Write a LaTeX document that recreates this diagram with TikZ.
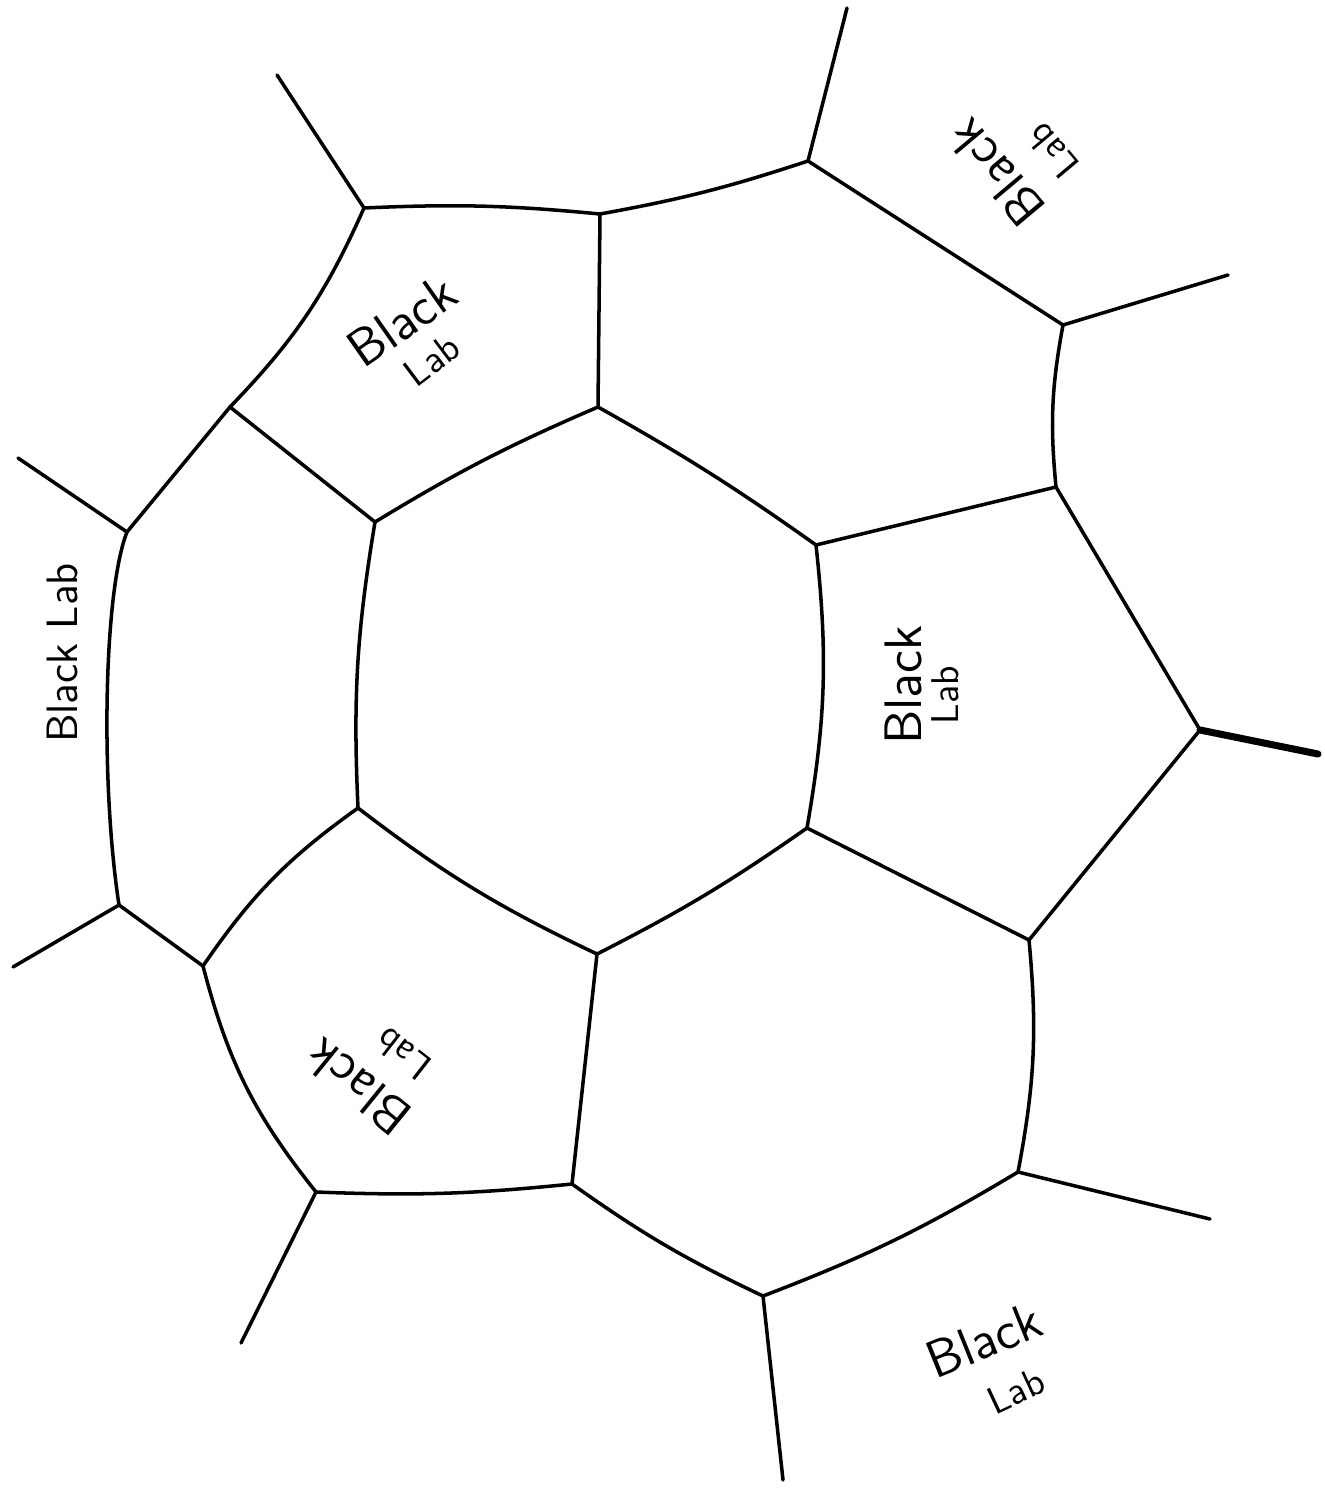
\documentclass[tikz,border=0pt]{standalone}
\begin{document}
\begin{tikzpicture}[x=0.01cm,y=-0.01cm,
    seam/.style={line width=1pt,line join=round,line cap=round},
    thickseam/.style={line width=2pt,line cap=round},
    bigword/.style={font=\sffamily\fontsize{15}{17}\selectfont,inner sep=0pt},
    smallword/.style={font=\sffamily\fontsize{11}{13}\selectfont,inner sep=0pt},
    midword/.style={font=\sffamily\fontsize{12.5}{14}\selectfont,inner sep=0pt}]
  \useasboundingbox (0,0) rectangle (1324,1488);
  \foreach \n/\p in {a/{364,208}, t/{600,214}, tr/{808,161}, r1/{1063,325}, r2/{1056,487},
      r3/{1200,730}, b1/{1029,940}, b2/{1018,1172}, b3/{763,1296}, p3/{572,1184},
      p2/{316,1192}, p1/{203,966}, l3/{119,905}, l2/{127,532}, l1/{230,407},
      c1/{598,407}, c2/{816,545}, c3/{807,828}, c4/{597,954}, c5/{358,808}, c6/{375,522}}
    \coordinate (\n) at (\p);
  \foreach \n/\p in {e1/{277,75}, e2/{847,8}, e3/{1228,275}, e4/{1318,754}, e5/{1210,1219},
      e6/{783,1480}, e7/{241,1343}, e8/{13,967}, e9/{18,458}}
    \coordinate (\n) at (\p);
  \foreach \a/\b/\o in {a/t/4, t/tr/-4, tr/r1/0, r1/r2/-8, r2/c2/0, c1/c2/3, t/c1/0,
      c6/c1/4, a/l1/10, l1/c6/0, l1/l2/0, c6/c5/-6, c5/p1/-10, l3/p1/0, c5/c4/-6,
      p1/p2/-12, p2/p3/-4, p3/c4/0, c4/c3/-4, c3/c2/-8, c3/b1/0, r2/r3/0, r3/b1/0,
      b1/b2/8, b2/b3/5, p3/b3/-5}
    \draw[seam] (\a) to[bend left=\o] (\b);
  \draw[seam] (l2) .. controls (104,590) and (100,780) .. (l3);
  \foreach \a/\e in {a/e1, tr/e2, r1/e3, b2/e5, b3/e6, p2/e7, l3/e8, l2/e9}
    \draw[seam] (\a) -- (\e);
  \draw[thickseam] (r3) -- (e4);
  \node[bigword,rotate=35] (black1) at (402,321) {Black};
  \node[smallword,rotate=37] (lab1) at (432,360) {Lab};
  \node[bigword,rotate=130] (black2) at (996,173) {Black};
  \node[smallword,rotate=130] (lab2) at (1053,151) {Lab};
  \node[midword,rotate=90] (black3) at (62,653) {Black Lab};
  \node[bigword,rotate=90] (black4) at (903,685) {Black};
  \node[smallword,rotate=90] (lab4) at (945,695) {Lab};
  \node[bigword,rotate=141] (black5) at (358,1087) {Black};
  \node[smallword,rotate=142] (lab5) at (403,1054) {Lab};
  \node[bigword,rotate=22] (black6) at (984,1340) {Black};
  \node[smallword,rotate=25] (lab6) at (1016,1391) {Lab};
\end{tikzpicture}
\end{document}
